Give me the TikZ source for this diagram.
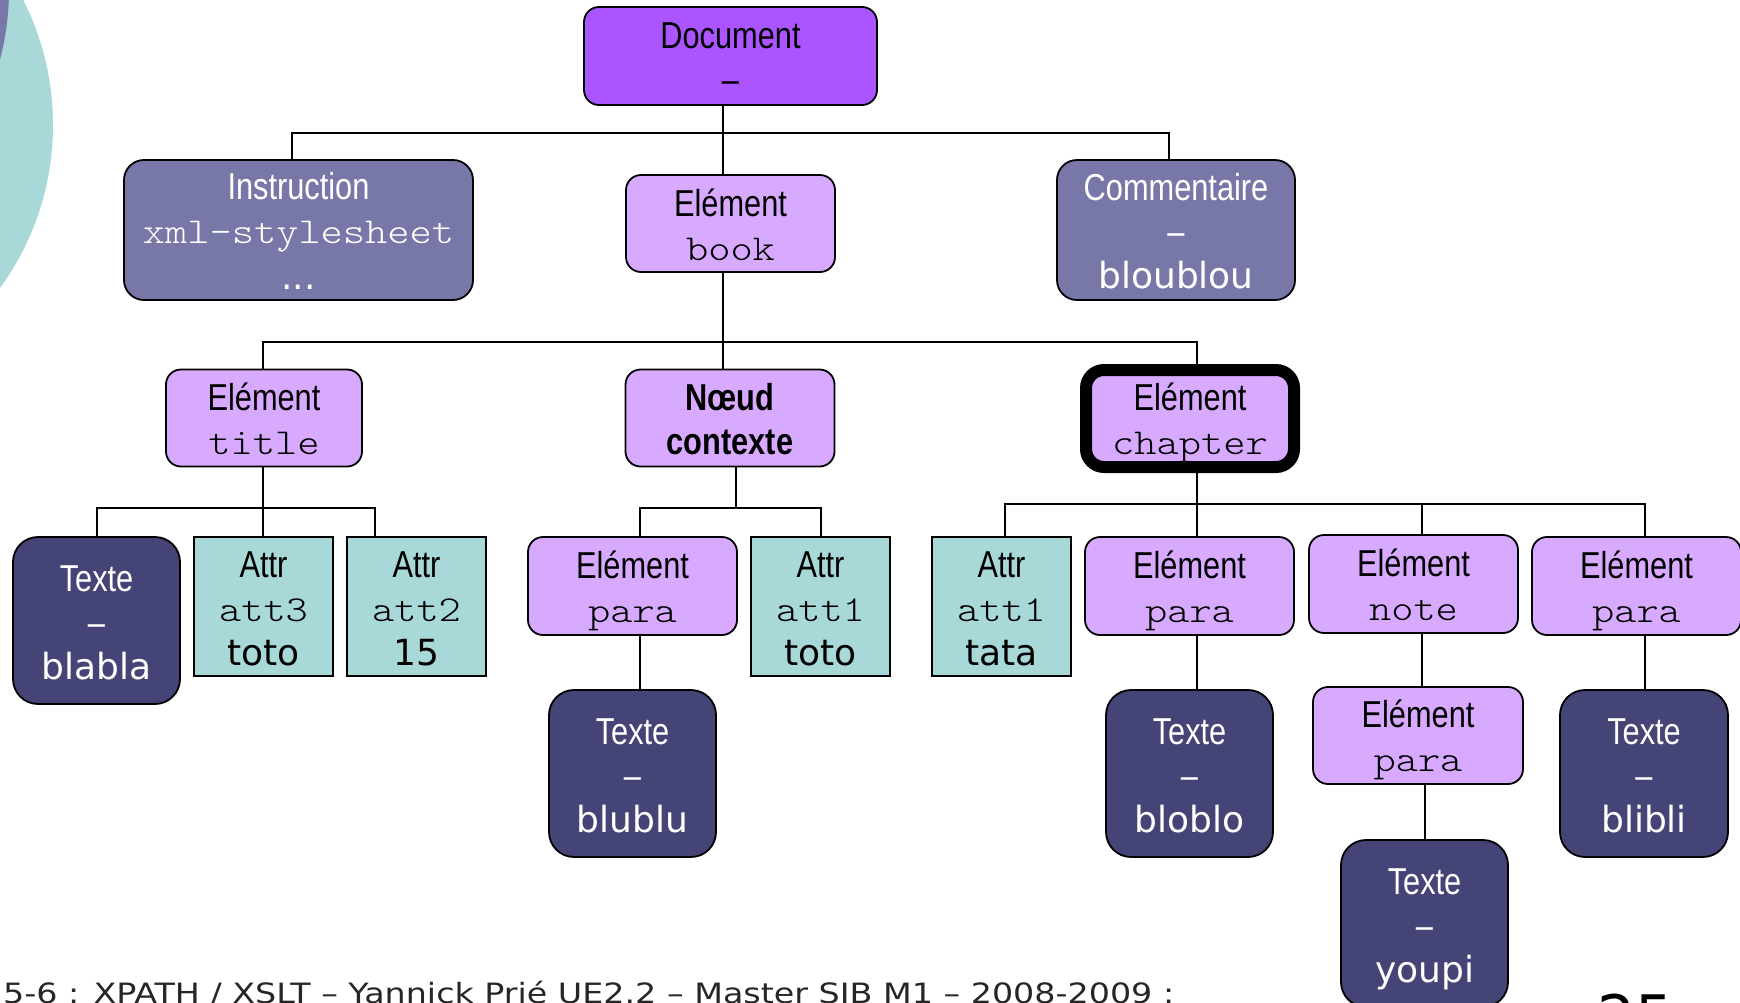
\documentclass[tikz,border=0pt]{standalone}
\usepackage{fontspec}
\setmainfont{DejaVu Sans}
\newfontfamily\narrowfont[FakeStretch=0.82]{Liberation Sans}
\newfontfamily\verdfont{DejaVu Sans}
\newfontfamily\footfont[FakeStretch=1.19]{DejaVu Sans}
\newfontfamily\monofont[FakeStretch=1.16]{Latin Modern Mono Light}
\definecolor{docC}{HTML}{AA55FF}
\definecolor{instrC}{HTML}{7878A8}
\definecolor{elemC}{HTML}{D8AAFF}
\definecolor{texteC}{HTML}{444477}
\definecolor{attrC}{HTML}{A8D8D8}
\newcommand\ystrut{\rule[-7.5pt]{0pt}{44pt}}
\newcommand\linN[1]{\ystrut{\narrowfont\fontsize{37.5}{44}\selectfont #1}}
\newcommand\linM[1]{\ystrut{\monofont\fontsize{36.5}{44}\selectfont #1}}
\newcommand\linV[1]{\ystrut{\verdfont #1}}
\tikzset{
  basebox/.style={draw=black, line width=1.8pt, inner sep=0pt, align=center,
    font=\fontsize{36}{44}\selectfont},
  docbox/.style={basebox, fill=docC, rounded corners=15pt, minimum width=293pt, minimum height=98pt},
  instrbox/.style={basebox, fill=instrC, text=white, rounded corners=20pt, minimum height=140pt},
  elembox/.style={basebox, fill=elemC, rounded corners=15pt, minimum width=209pt, minimum height=97pt},
  textebox/.style={basebox, fill=texteC, text=white, rounded corners=25pt, minimum width=167pt, minimum height=167pt},
  attrbox/.style={basebox, fill=attrC, minimum width=139pt, minimum height=139pt},
  link/.style={draw=black, line width=1.8pt}
}
\begin{document}
\begin{tikzpicture}[x=1pt,y=-1pt]
\useasboundingbox (0,0) rectangle (1740,1002);
\clip (0,0) rectangle (1740,1002);
% background decoration
\fill[attrC] (-224,125) circle[radius=277];
\fill[instrC] (-260,-10) circle[radius=269];

% nodes
\node[docbox] (doc) at (730.5,56) {\linN{Document}\\\linN{–}};
\node[instrbox, minimum width=349pt] (instr) at (298.5,230) {\linN{Instruction}\\\linM{xml-stylesheet}\\\linV{...}};
\node[elembox] (book) at (730.5,223.5) {\linN{Elément}\\\linM{book}};
\node[instrbox, minimum width=238pt] (comm) at (1176,230) {\linN{Commentaire}\\\linN{–}\\\linV{bloublou}};

\node[elembox, minimum width=196pt] (title) at (264,418) {\linN{Elément}\\\linM{title}};
\node[elembox] (noeud) at (730,418) {\linN{\bfseries Nœud}\\\linN{\bfseries contexte}};
\node[elembox, minimum width=208pt, line width=12pt, rounded corners=18pt] (chap) at (1190,418.5) {\linN{Elément}\\\linM{chapter}};

\node[textebox] (blabla) at (96.5,620.5) {\linN{Texte}\\\linN{–}\\\linV{blabla}};
\node[attrbox] (att3) at (263.5,606.5) {\linN{Attr}\\\linM{att3}\\\linV{toto}};
\node[attrbox] (att2) at (416.5,606.5) {\linN{Attr}\\\linM{att2}\\\linV{15}};

\node[elembox, minimum height=98pt] (para1) at (632.5,586) {\linN{Elément}\\\linM{para}};
\node[attrbox] (att1a) at (820.5,606.5) {\linN{Attr}\\\linM{att1}\\\linV{toto}};
\node[textebox] (blublu) at (632.5,773.5) {\linN{Texte}\\\linN{–}\\\linV{blublu}};

\node[attrbox] (tata) at (1001.5,606.5) {\linN{Attr}\\\linM{att1}\\\linV{tata}};
\node[elembox, minimum height=98pt] (para2) at (1189.5,586) {\linN{Elément}\\\linM{para}};
\node[elembox, minimum height=98pt] (note) at (1413.5,584) {\linN{Elément}\\\linM{note}};
\node[elembox, minimum height=98pt] (para3) at (1636.5,586) {\linN{Elément}\\\linM{para}};
\node[textebox] (bloblo) at (1189.5,773.5) {\linN{Texte}\\\linN{–}\\\linV{bloblo}};
\node[elembox, minimum width=210pt] (para4) at (1418,735.5) {\linN{Elément}\\\linM{para}};
\node[textebox] (youpi) at (1424.5,923.5) {\linN{Texte}\\\linN{–}\\\linV{youpi}};
\node[textebox, minimum width=168pt] (blibli) at (1644,773.5) {\linN{Texte}\\\linN{–}\\\linV{blibli}};

% bus junctions
\coordinate (busA) at (723,133);
\coordinate (busB) at (723,342);
\coordinate (busC) at (263,508);
\coordinate (busD) at (736,508);
\coordinate (busE) at (1197,504);

% connectors
\draw[link] ([xshift=-7.5pt]doc.south) -- ([xshift=-7.5pt]book.north);
\draw[link] ([xshift=-6.5pt]instr.north) |- (busA);
\draw[link] ([xshift=-7pt]comm.north) |- (busA);

\draw[link] ([xshift=-7.5pt]book.south) -- ([xshift=-7pt]noeud.north);
\draw[link] ([xshift=-1pt]title.north) |- (busB);
\draw[link] ([xshift=7pt]chap.north) |- (busB);

\draw[link] ([xshift=-1pt]title.south) -- ([xshift=-0.5pt]att3.north);
\draw[link] ([xshift=0.5pt]blabla.north) |- (busC);
\draw[link] ([xshift=-41.5pt]att2.north) |- (busC);

\draw[link] ([xshift=6pt]noeud.south) -- (busD);
\draw[link] ([xshift=7.5pt]para1.north) |- (busD);
\draw[link] ([xshift=0.5pt]att1a.north) |- (busD);
\draw[link] ([xshift=7.5pt]para1.south) -- ([xshift=7.5pt]blublu.north);

\draw[link] ([xshift=7pt]chap.south) -- ([xshift=7.5pt]para2.north);
\draw[link] ([xshift=3.5pt]tata.north) |- (busE);
\draw[link] ([xshift=8.5pt]note.north) |- (busE);
\draw[link] ([xshift=8.5pt]para3.north) |- (busE);
\draw[link] ([xshift=7.5pt]para2.south) -- ([xshift=7.5pt]bloblo.north);
\draw[link] ([xshift=8.5pt]note.south) -- ([xshift=4pt]para4.north);
\draw[link] ([xshift=7pt]para4.south) -- ([xshift=0.5pt]youpi.north);
\draw[link] ([xshift=8.5pt]para3.south) -- ([xshift=1pt]blibli.north);

% footer
\node[anchor=base west, inner sep=0pt, font=\footfont\fontsize{28}{32}\selectfont, text=black!85] (footer) at (3,1003)
  {5-6 : XPATH / XSLT – Yannick Prié UE2.2 – Master SIB M1 – 2008-2009 :};
\node[anchor=base west, inner sep=0pt, font=\verdfont\fontsize{60}{64}\selectfont] (pagenum) at (1597,1038) {25};
\end{tikzpicture}
\end{document}
